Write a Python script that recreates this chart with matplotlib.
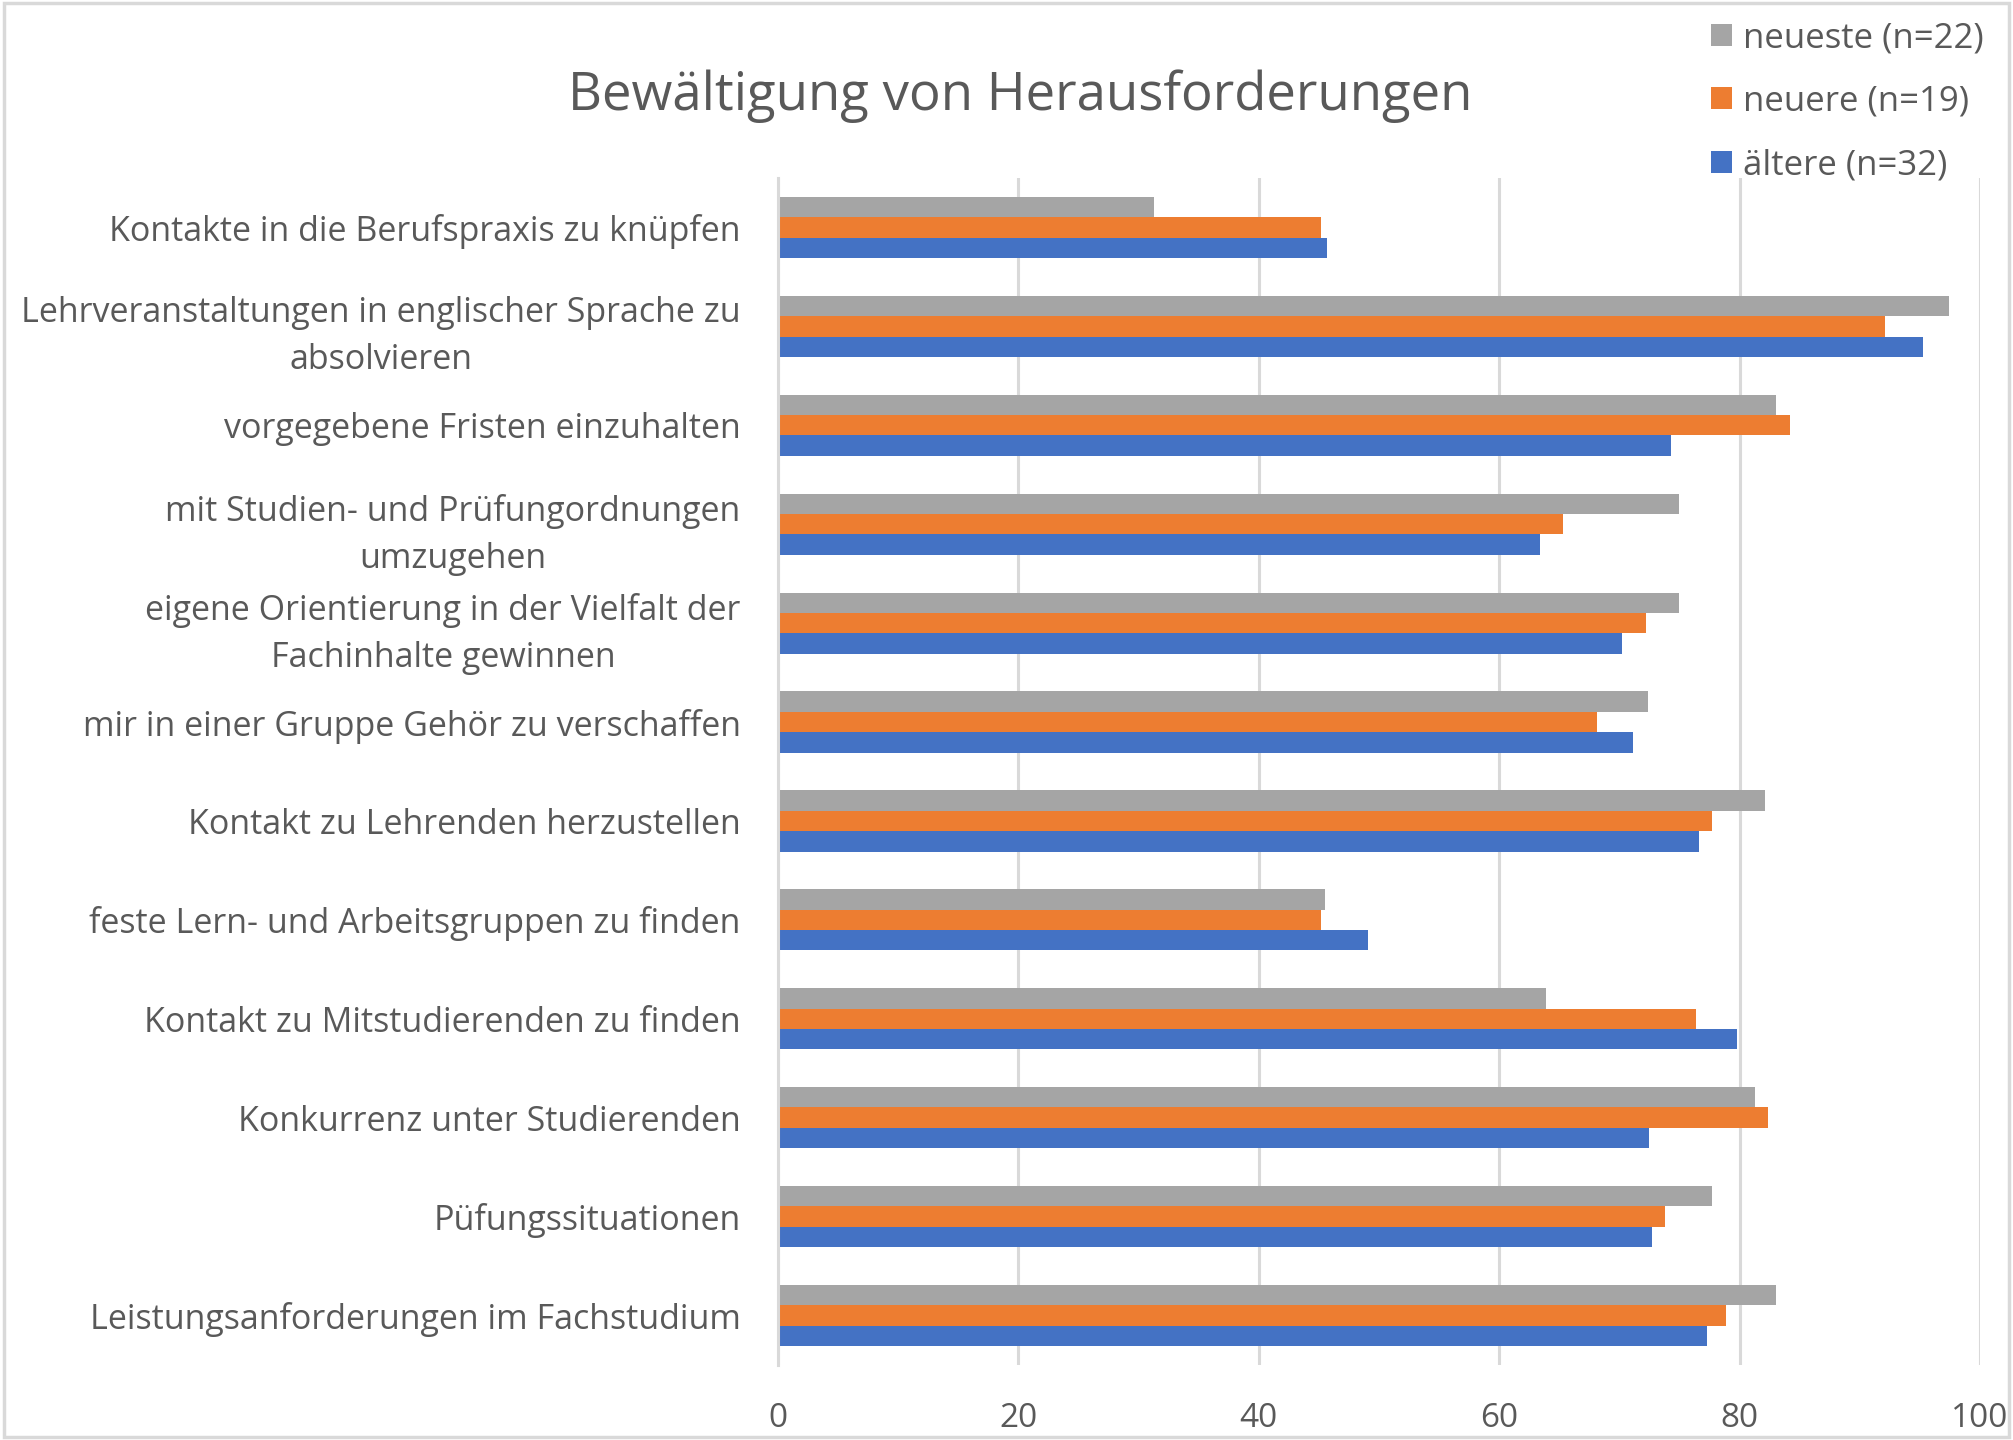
"""Bewältigung von Herausforderungen – gruppiertes Balkendiagramm (Excel-Stil)."""
import numpy as np
import matplotlib.pyplot as plt
from matplotlib.patches import Rectangle

# Kategorien von unten nach oben (Excel-Reihenfolge)
categories = [
    "Leistungsanforderungen im Fachstudium",
    "Püfungssituationen",
    "Konkurrenz unter Studierenden",
    "Kontakt zu Mitstudierenden zu finden",
    "feste Lern- und Arbeitsgruppen zu finden",
    "Kontakt zu Lehrenden herzustellen",
    "mir in einer Gruppe Gehör zu verschaffen",
    "eigene Orientierung in der Vielfalt der\nFachinhalte gewinnen",
    "mit Studien- und Prüfungordnungen\numzugehen",
    "vorgegebene Fristen einzuhalten",
    "Lehrveranstaltungen in englischer Sprache zu\nabsolvieren",
    "Kontakte in die Berufspraxis zu knüpfen",
]

aeltere = [77.3, 72.7, 72.5, 79.8, 49.1, 76.6, 71.1, 70.2, 63.4, 74.3, 95.3, 45.7]
neuere = [78.9, 73.8, 82.4, 76.4, 45.2, 77.7, 68.1, 72.2, 65.3, 84.2, 92.1, 45.2]
neueste = [83.0, 77.7, 81.3, 63.9, 45.5, 82.1, 72.4, 75.0, 75.0, 83.0, 97.4, 31.3]

series_labels = ["ältere (n=32)", "neuere (n=19)", "neueste (n=22)"]
colors = ["#4472C4", "#ED7D31", "#A5A5A5"]
x_ticks = [0, 20, 40, 60, 80, 100]

TEXT = "#595959"
GRID = "#D9D9D9"

plt.rcParams["font.family"] = ["Open Sans", "DejaVu Sans"]

fig = plt.figure(figsize=(20.13, 14.4), dpi=100)
ax = fig.add_axes([0.3865, 0.0521, 0.5971, 0.8243])

y = np.arange(len(categories))
h = 0.206
handles = []
for k, (vals, col, lab) in enumerate(zip([aeltere, neuere, neueste], colors, series_labels)):
    b = ax.barh(y + (k - 1) * h, vals, height=h, color=col, label=lab, zorder=3)
    handles.append(b)

ax.set_xlim(0, 100)
ax.set_ylim(-0.5, len(categories) - 0.5)
ax.set_xticks(x_ticks)
ax.set_xticklabels([str(t) for t in x_ticks])
ax.set_yticks(y)
ax.set_yticklabels(categories, multialignment="center", linespacing=1.5)

ax.tick_params(axis="x", length=0, pad=27, labelsize=24, labelcolor=TEXT)
ax.tick_params(axis="y", length=0, pad=27, labelsize=24.5, labelcolor=TEXT)
ax.grid(axis="x", color=GRID, linewidth=2.2, zorder=0)
for side in ["top", "right", "bottom"]:
    ax.spines[side].set_visible(False)
ax.spines["left"].set_color(GRID)
ax.spines["left"].set_linewidth(2.2)
ax.spines["left"].set_zorder(4)

fig.text(0.507, 0.933, "Bewältigung von Herausforderungen", ha="center", va="center",
         fontsize=38, color=TEXT)

# Legende (neueste oben)
leg = fig.legend(handles[::-1], series_labels[::-1], loc="upper left",
                 bbox_to_anchor=(0.8346, 1.007), frameon=False, fontsize=25,
                 labelcolor=TEXT, handlelength=0.6, handleheight=0.6,
                 handletextpad=0.3, labelspacing=0.85)

# Rahmen des Diagrammbereichs
fig.patches.append(Rectangle((0.002, 0.002), 0.996, 0.996, transform=fig.transFigure,
                             fill=False, edgecolor=GRID, linewidth=2.5))

fig.savefig("out.png", dpi=100)
